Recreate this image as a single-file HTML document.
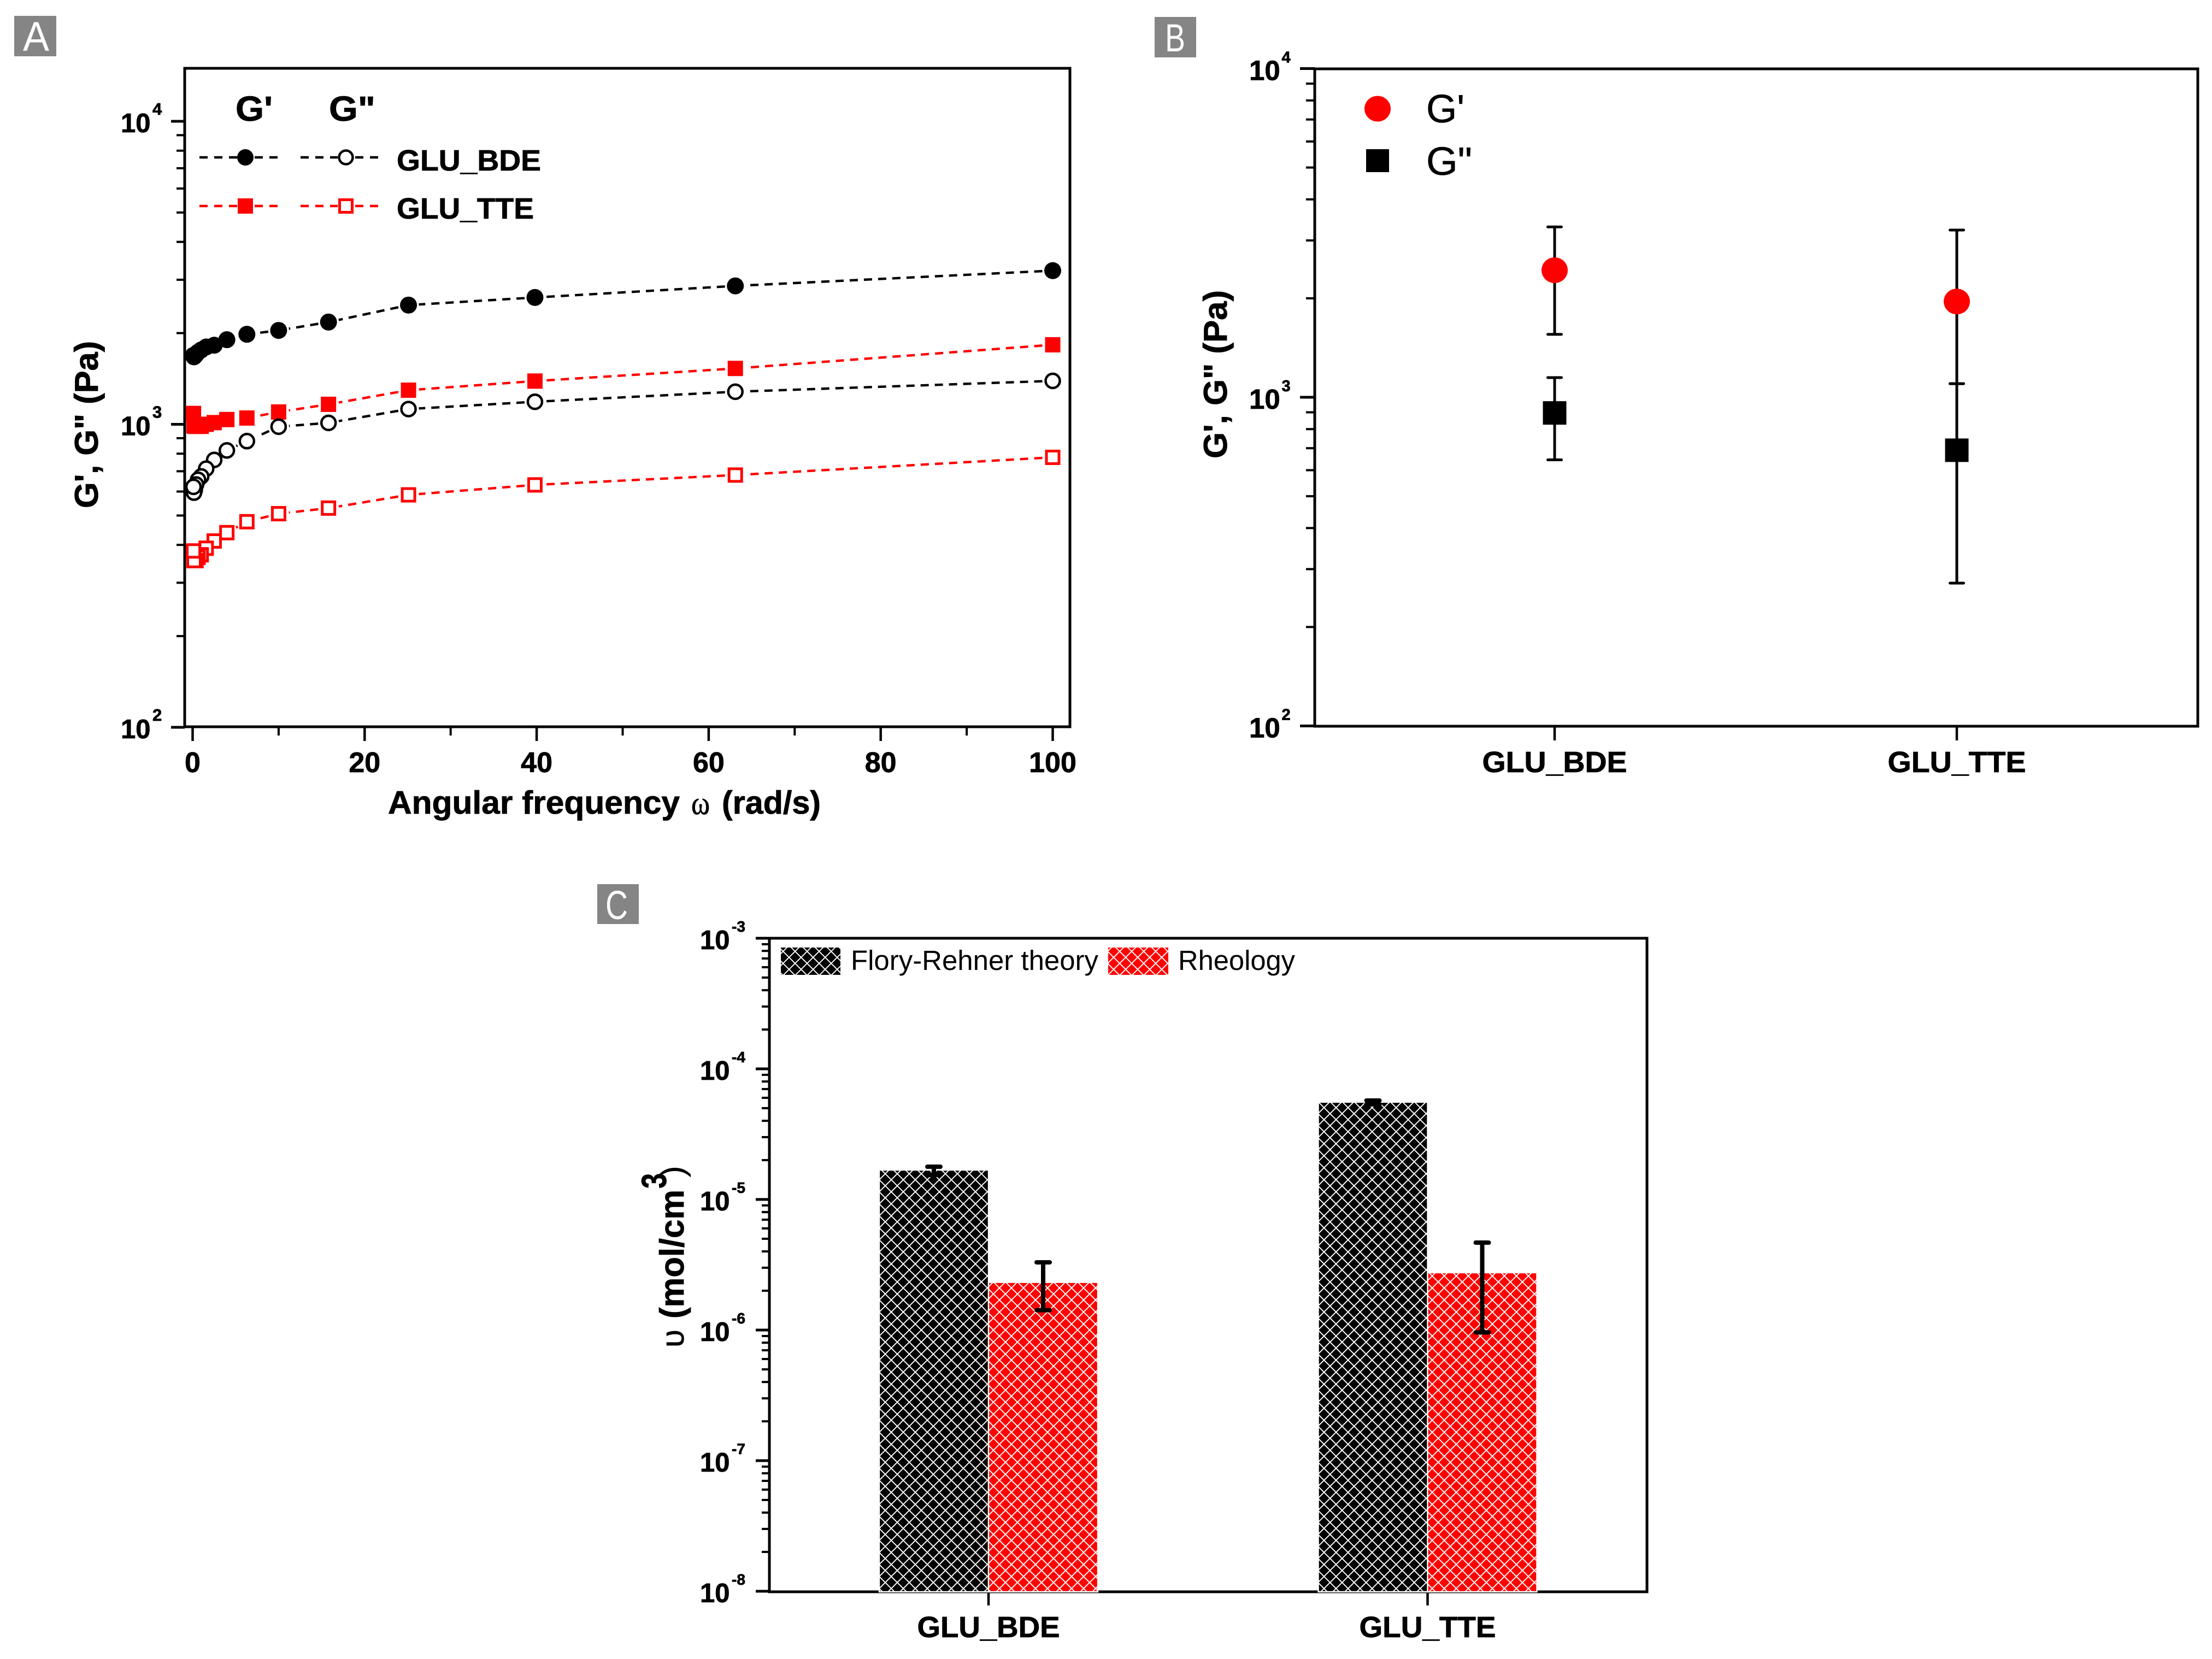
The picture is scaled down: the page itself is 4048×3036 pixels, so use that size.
<!DOCTYPE html>
<html lang="en">
<head>
<meta charset="utf-8">
<title>Rheology of GLU_BDE and GLU_TTE networks</title>
<style>
html,body{margin:0;padding:0;background:#fff;}
svg{display:block;}
text{font-family:"Liberation Sans",sans-serif;fill:#000;}
.b{font-weight:bold;stroke:#000;stroke-width:.8px;}
.panel{fill:#fff;font-size:72px;}
</style>
</head>
<body>
<svg id="figure" xmlns="http://www.w3.org/2000/svg" width="4048" height="3036" viewBox="0 0 4048 3036">
<defs>
<pattern id="hatch-black" width="22" height="22" patternUnits="userSpaceOnUse" x="3" y="3">
<rect width="22" height="22" fill="#000"/>
<path d="M-2,-2L24,24M24,-2L-2,24" stroke="#fff" stroke-width="1.9" fill="none"/>
</pattern>
<pattern id="hatch-red" width="22" height="22" patternUnits="userSpaceOnUse" x="3" y="3">
<rect width="22" height="22" fill="#f00"/>
<path d="M-2,-2L24,24M24,-2L-2,24" stroke="#fff" stroke-width="1.9" fill="none"/>
</pattern>
</defs>
<rect width="4048" height="3036" fill="#fff"/>

<!-- Panel A -->
<g id="panel-a">
<rect x="26" y="29" width="77" height="74" fill="#858585"/>
<text class="panel" x="42" y="93" font-size="76" style="font-size:76px" textLength="48" lengthAdjust="spacingAndGlyphs">A</text>
<rect x="338" y="125" width="1620" height="1205" fill="none" stroke="#000" stroke-width="5"/>
<g id="a-ticks"></g>
<g id="a-series"></g>
<text class="b" x="179" y="930" font-size="60" textLength="306" lengthAdjust="spacingAndGlyphs" transform="rotate(-90 179 930)">G', G" (Pa)</text>
<text class="b" x="710" y="1489" font-size="59" textLength="534" lengthAdjust="spacingAndGlyphs">Angular frequency</text>
<text x="1265" y="1490" font-size="60" textLength="34" lengthAdjust="spacingAndGlyphs" style="font-family:'Liberation Serif',serif;stroke:#000;stroke-width:.8px">ω</text>
<text class="b" x="1321" y="1489" font-size="59" textLength="181" lengthAdjust="spacingAndGlyphs">(rad/s)</text>
<g>
<text class="b" x="431" y="221" font-size="64" textLength="68" lengthAdjust="spacingAndGlyphs">G'</text>
<text class="b" x="602" y="221" font-size="64" textLength="85" lengthAdjust="spacingAndGlyphs">G"</text>
<g fill="none" stroke="#000" stroke-width="4.4" stroke-dasharray="15 12">
<path d="M365,288H434M466,288H510"/>
<path d="M550,288H618M650,288H692"/>
</g>
<g fill="none" stroke="#f00" stroke-width="4.4" stroke-dasharray="15 12">
<path d="M365,377H434M466,377H510"/>
<path d="M550,377H618M650,377H692"/>
</g>
<circle cx="449" cy="288" r="15" fill="#000"/>
<circle cx="633" cy="288" r="12.5" fill="#fff" stroke="#000" stroke-width="4.5"/>
<rect x="435" y="363" width="28" height="28" fill="#f00"/>
<rect x="621.5" y="365.5" width="23" height="23" fill="#fff" stroke="#f00" stroke-width="5"/>
<text class="b" x="726" y="312" font-size="54" textLength="264" lengthAdjust="spacingAndGlyphs">GLU_BDE</text>
<text class="b" x="726" y="400" font-size="54" textLength="251" lengthAdjust="spacingAndGlyphs">GLU_TTE</text>
</g>
</g>

<!-- Panel B -->
<g id="panel-b">
<rect x="2113" y="31" width="76" height="74" fill="#858585"/>
<text class="panel" x="2132" y="94" style="font-size:71px" textLength="37" lengthAdjust="spacingAndGlyphs">B</text>
<rect x="2406" y="126" width="1616" height="1203" fill="none" stroke="#000" stroke-width="5"/>
<g id="b-ticks"></g>
<g id="b-series"></g>
<text class="b" x="2245" y="839" font-size="60" textLength="308" lengthAdjust="spacingAndGlyphs" transform="rotate(-90 2245 839)">G', G" (Pa)</text>
<g>
<ellipse cx="2521" cy="199" rx="24" ry="23.5" fill="#f00"/>
<rect x="2500" y="273" width="42" height="42" fill="#000"/>
<text x="2610" y="224" font-size="72" textLength="70" lengthAdjust="spacingAndGlyphs" style="stroke:#000;stroke-width:.6px">G'</text>
<text x="2610" y="320" font-size="72" textLength="84" lengthAdjust="spacingAndGlyphs" style="stroke:#000;stroke-width:.6px">G"</text>
</g>
</g>

<!-- Panel C -->
<g id="panel-c">
<rect x="1093" y="1618" width="76" height="73" fill="#858585"/>
<text class="panel" x="1108" y="1682" style="font-size:74px" textLength="41" lengthAdjust="spacingAndGlyphs">C</text>
<rect x="1408" y="1717" width="1606" height="1196" fill="none" stroke="#000" stroke-width="5"/>
<g id="c-ticks"></g>
<g id="c-series"></g>
<text x="1251" y="2466" font-size="58" textLength="33" lengthAdjust="spacingAndGlyphs" transform="rotate(-90 1251 2466)" style="stroke:#000;stroke-width:.6px">υ</text>
<text class="b" x="1251" y="2413" font-size="62" textLength="236" lengthAdjust="spacingAndGlyphs" transform="rotate(-90 1251 2413)">(mol/cm</text>
<text class="b" x="1219" y="2175" font-size="64" textLength="28" lengthAdjust="spacingAndGlyphs" transform="rotate(-90 1219 2175)">3</text>
<text x="1251" y="2155" font-size="62" textLength="22" lengthAdjust="spacingAndGlyphs" transform="rotate(-90 1251 2155)">)</text>
<g>
<rect x="1429" y="1734" width="109" height="50" fill="url(#hatch-black)"/>
<text x="1557" y="1775" font-size="51" textLength="453" lengthAdjust="spacingAndGlyphs">Flory-Rehner theory</text>
<rect x="2028" y="1734" width="110" height="50" fill="url(#hatch-red)"/>
<text x="2156" y="1775" font-size="51" textLength="214" lengthAdjust="spacingAndGlyphs">Rheology</text>
</g>
</g>
</svg>

<script>
// ---------- Panel A data ----------
const freq = [0.1, 0.158, 0.251, 0.398, 0.631, 1, 1.58, 2.51, 3.98, 6.31, 10, 15.8, 25.1, 39.8, 63.1, 100];
const bdeStorage = [1690, 1670, 1680, 1700, 1730, 1760, 1800, 1824, 1902, 1982, 2041, 2175, 2474, 2622, 2863, 3215];
const bdeLoss = [622, 595, 607, 633, 656, 673, 714, 763, 820, 880, 982, 1011, 1123, 1187, 1281, 1391];
const tteStorage = [1086, 990, 985, 985, 985, 985, 1000, 1013, 1037, 1049, 1098, 1164, 1296, 1389, 1529, 1830];
const tteLoss = [382, 355, 355, 355, 364, 371, 390, 412, 439, 477, 507, 529, 585, 631, 680, 778];
const aXTicks = [0, 20, 40, 60, 80, 100];
const aXMinorTicks = [10, 30, 50, 70, 90];
const aYDecades = [4, 3, 2];

// ---------- Panel B data ----------
const bCategories = ['GLU_BDE', 'GLU_TTE'];
const bStorage = [2435, 1956];
const bStorageHigh = [3298, 3226];
const bStorageLow = [1554, 1100];
const bLoss = [896, 690];
const bLossHigh = [1148, 1100];
const bLossLow = [645, 272];
const bYDecades = [4, 3, 2];

// ---------- Panel C data ----------
const cCategories = ['GLU_BDE', 'GLU_TTE'];
const floryValues = [1.68e-5, 5.56e-5];
const floryHigh = [1.78e-5, 5.72e-5];
const floryLow = [1.54e-5, 5.35e-5];
const rheologyValues = [2.32e-6, 2.75e-6];
const rheologyHigh = [3.30e-6, 4.67e-6];
const rheologyLow = [1.42e-6, 9.6e-7];
const cYDecades = [-3, -4, -5, -6, -7, -8];

const NS = 'http://www.w3.org/2000/svg';
function mk(tag, attrs, parent) {
  const n = document.createElementNS(NS, tag);
  for (const k in attrs) n.setAttribute(k, attrs[k]);
  parent.appendChild(n);
  return n;
}

// Axis functions
const ax = v => 352.5 + 15.74 * v;
const ay = v => 776.5 - 554.5 * Math.log10(v / 1000);
const bx = i => 2845 + 736 * i;
const by = v => 727 - 601.5 * Math.log10(v / 1000);
const cx = i => 1809 + 803.5 * i;
const cy = v => 2195 - 239 * (Math.log10(v) + 5);

function logTicks(parent, decades, yOf, axisX, majorLen, minorLen, labelX, supX, size, supSize, base, sup) {
  decades.forEach((d, i) => {
    const y = yOf(Math.pow(10, d));
    const t = mk('line', {x1: axisX, x2: axisX - majorLen, y1: y, y2: y, stroke: '#000', 'stroke-width': 5}, parent);
    
    
    const label = mk('text', {x: labelX, y: y + base, 'font-size': size, class: 'b'}, parent);
    
    
    label.appendChild(document.createTextNode('10'));
    const s = mk('tspan', {x: supX, y: y + sup, 'font-size': supSize}, label);
    s.textContent = String(d);
    if (i < decades.length - 1) {
      const low = Math.min(d, decades[i + 1]);
      for (let k = 2; k <= 9; k++) {
        const my = yOf(k * Math.pow(10, low));
        const m = mk('line', {x1: axisX, x2: axisX - minorLen, y1: my, y2: my, stroke: '#000', 'stroke-width': 4}, parent);
        
        
      }
    }
  });
}

function catLabel(parent, text, x, y, w) {
  const t = mk('text', {x: x, y: y, 'font-size': 54, class: 'b', textLength: w, lengthAdjust: 'spacingAndGlyphs'}, parent);
  
  
  t.textContent = text;
}

function catTick(parent, x, y1, y2) {
  const t = mk('line', {x1: x, x2: x, y1: y1, y2: y2, stroke: '#000', 'stroke-width': 4.5}, parent);
  
  
}

// ---------- Panel A ----------
const aTicks = document.getElementById('a-ticks');
logTicks(aTicks, aYDecades, ay, 338, 25, 15, 221, 279, 49, 31, 20, -12);
aXTicks.forEach(v => {
  const t = mk('line', {x1: ax(v), x2: ax(v), y1: 1330, y2: 1356, stroke: '#000', 'stroke-width': 4.5}, aTicks);
  
  
  const l = mk('text', {x: ax(v), y: 1413, 'font-size': 52, 'text-anchor': 'middle', class: 'b'}, aTicks);
  
  
  l.textContent = String(v);
});
aXMinorTicks.forEach(v => {
  const t = mk('line', {x1: ax(v), x2: ax(v), y1: 1330, y2: 1346, stroke: '#000', 'stroke-width': 4}, aTicks);
  
  
});

function sweepLine(parent, values, color) {
  for (let i = 0; i < values.length - 1; i++) {
    const x1 = ax(freq[i]), y1 = ay(values[i]), x2 = ax(freq[i + 1]), y2 = ay(values[i + 1]);
    const len = Math.hypot(x2 - x1, y2 - y1);
    const gap = 19;
    if (len <= gap * 2) continue;
    const ux = (x2 - x1) / len, uy = (y2 - y1) / len;
    // the sweep runs from high to low frequency, so dashes start at the right
    const seg = mk('line', {x1: x2 - ux * gap, y1: y2 - uy * gap, x2: x1 + ux * gap, y2: y1 + uy * gap, stroke: color, 'stroke-width': 4.4, 'stroke-dasharray': '15 11'}, parent);
    
    
  }
}

function circleSeries(parent, values, filled) {
  for (let i = values.length - 1; i >= 0; i--) {
    const c = mk('circle', filled
      ? {cx: ax(freq[i]), cy: ay(values[i]), r: 15.5, fill: '#000'}
      : {cx: ax(freq[i]), cy: ay(values[i]), r: 13, fill: '#fff', stroke: '#000', 'stroke-width': 4.5}, parent);
    
    
  }
}

function squareSeries(parent, values, filled) {
  for (let i = values.length - 1; i >= 0; i--) {
    const x = ax(freq[i]), y = ay(values[i]);
    const s = mk('rect', filled
      ? {x: x - 14, y: y - 14, width: 28, height: 28, fill: '#f00'}
      : {x: x - 11.5, y: y - 11.5, width: 23, height: 23, fill: '#fff', stroke: '#f00', 'stroke-width': 5}, parent);
    
    
  }
}

const aSeries = document.getElementById('a-series');
sweepLine(aSeries, bdeStorage, '#000');
sweepLine(aSeries, tteStorage, '#f00');
sweepLine(aSeries, bdeLoss, '#000');
sweepLine(aSeries, tteLoss, '#f00');
circleSeries(aSeries, bdeStorage, true);
squareSeries(aSeries, tteStorage, true);
circleSeries(aSeries, bdeLoss, false);
squareSeries(aSeries, tteLoss, false);

// ---------- Panel B ----------
const bTicks = document.getElementById('b-ticks');
logTicks(bTicks, bYDecades, by, 2406, 27, 16, 2286, 2345.5, 51, 29, 21, -11);
const bLabelWidths = [265, 253];
bCategories.forEach((c, i) => {
  catTick(bTicks, bx(i), 1329, 1355);
  catLabel(bTicks, c, bx(i) - bLabelWidths[i] / 2, 1413, bLabelWidths[i]);
});

function errorBar(parent, x, yHigh, yLow, capW, w) {
  const stem = mk('line', {x1: x, x2: x, y1: yHigh, y2: yLow, stroke: '#000', 'stroke-width': w}, parent);
  
  
  [yHigh, yLow].forEach(y => {
    const cap = mk('line', {x1: x - capW / 2, x2: x + capW / 2, y1: y, y2: y, stroke: '#000', 'stroke-width': w, 'stroke-linecap': 'round'}, parent);
    
    
  });
}

const bSeries = document.getElementById('b-series');
bCategories.forEach((c, i) => {
  errorBar(bSeries, bx(i), by(bStorageHigh[i]), by(bStorageLow[i]), 25, 5);
  errorBar(bSeries, bx(i), by(bLossHigh[i]), by(bLossLow[i]), 25, 5);
  const p = mk('ellipse', {cx: bx(i), cy: by(bStorage[i]), rx: 24, ry: 23.5, fill: '#f00'}, bSeries);
  
  
  const q = mk('rect', {x: bx(i) - 21.5, y: by(bLoss[i]) - 21.5, width: 43, height: 43, fill: '#000'}, bSeries);
  
  
});

// ---------- Panel C ----------
const cTicks = document.getElementById('c-ticks');
logTicks(cTicks, cYDecades, cy, 1408, 25, 14, 1281, 1339, 49, 28, 20, -12);
const cLabelWidths = [261, 250];
cCategories.forEach((c, i) => {
  catTick(cTicks, cx(i), 2913, 2938);
  catLabel(cTicks, c, cx(i) - cLabelWidths[i] / 2, 2996, cLabelWidths[i]);
});

const cSeries = document.getElementById('c-series');
const barWidth = 200;
const baseY = cy(1e-8) + 1;
cCategories.forEach((c, i) => {
  const fy = cy(floryValues[i]);
  const fb = mk('rect', {x: cx(i) - barWidth, y: fy, width: barWidth, height: baseY - fy, fill: 'url(#hatch-black)', stroke: '#fff', 'stroke-width': 2.4}, cSeries);
  
  
  const ry = cy(rheologyValues[i]);
  const rb = mk('rect', {x: cx(i), y: ry, width: barWidth, height: baseY - ry, fill: 'url(#hatch-red)', stroke: '#fff', 'stroke-width': 2.4}, cSeries);
  
  
  errorBar(cSeries, cx(i) - barWidth / 2, cy(floryHigh[i]), cy(floryLow[i]), 24, 8);
  errorBar(cSeries, cx(i) + barWidth / 2, cy(rheologyHigh[i]), cy(rheologyLow[i]), 24, 8);
});
</script>
</body>
</html>
